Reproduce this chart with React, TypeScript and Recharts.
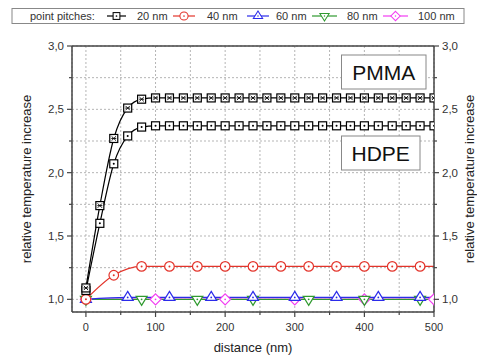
import React from "react";
import { LineChart, Line, XAxis, YAxis, CartesianGrid, ReferenceLine } from "recharts";

const FONT = "'Liberation Sans', Arial, sans-serif";

// 20 nm pitch, every 20 nm
const x20 = [0, 20, 40, 60, 80, 100, 120, 140, 160, 180, 200, 220, 240, 260, 280, 300, 320, 340, 360, 380, 400, 420, 440, 460, 480, 500];
const pmma20 = [1.09, 1.74, 2.27, 2.51, 2.58, 2.59, 2.59, 2.59, 2.59, 2.59, 2.59, 2.59, 2.59, 2.59, 2.59, 2.59, 2.59, 2.59, 2.59, 2.59, 2.59, 2.59, 2.59, 2.59, 2.59, 2.59];
const hdpe20 = [1.07, 1.6, 2.07, 2.29, 2.36, 2.37, 2.37, 2.37, 2.37, 2.37, 2.37, 2.37, 2.37, 2.37, 2.37, 2.37, 2.37, 2.37, 2.37, 2.37, 2.37, 2.37, 2.37, 2.37, 2.37, 2.37];

const x40 = [0, 40, 80, 120, 160, 200, 240, 280, 320, 360, 400, 440, 480, 500];
const y40 = [1.0, 1.19, 1.26, 1.26, 1.26, 1.26, 1.26, 1.26, 1.26, 1.26, 1.26, 1.26, 1.26, 1.26];

const x60 = [0, 60, 120, 180, 240, 300, 360, 420, 480, 500];
const y60 = [1.0, 1.015, 1.015, 1.015, 1.015, 1.015, 1.015, 1.015, 1.015, 1.015];

const x80 = [0, 80, 160, 240, 320, 400, 480, 500];
const y80 = [1.0, 1.0, 1.0, 1.0, 1.0, 1.0, 1.0, 1.0];

const x100 = [0, 100, 200, 300, 400, 500];
const y100 = [1.0, 1.0, 1.0, 1.0, 1.0, 1.0];

const xTicks = [0, 50, 100, 150, 200, 250, 300, 350, 400, 450, 500];
const yTicks = [1.0, 1.25, 1.5, 1.75, 2.0, 2.25, 2.5, 2.75, 3.0];

const zip = (xs: number[], ys: number[]) => xs.map((x, i) => ({ x, y: ys[i] }));

const pmmaData = zip(x20, pmma20);
const hdpeData = zip(x20, hdpe20);
const d40 = zip(x40, y40);
const d60 = zip(x60, y60);
const d80 = zip(x80, y80);
const d100 = zip(x100, y100);

const RED = "#e3342b";
const BLUE = "#2b2bea";
const GREEN = "#2f9a2f";
const MAGENTA = "#f23cf2";
const FRAME = "#444";

type Shape = "sqx" | "sqdot" | "circle" | "up" | "down" | "diamond";

const Marker = ({ cx, cy, shape, color }: { cx: number; cy: number; shape: Shape; color: string }) => {
  const sw = 1.2;
  if (shape === "sqx" || shape === "sqdot") {
    return (
      <g>
        <rect x={cx - 4} y={cy - 4} width={8} height={8} fill="#fff" stroke={color} strokeWidth={sw} />
        {shape === "sqx" ? (
          <path d={`M${cx - 2.2},${cy - 2.2}L${cx + 2.2},${cy + 2.2}M${cx + 2.2},${cy - 2.2}L${cx - 2.2},${cy + 2.2}M${cx - 2.5},${cy}L${cx + 2.5},${cy}`} stroke={color} strokeWidth={0.9} />
        ) : (
          <circle cx={cx} cy={cy} r={1} fill={color} />
        )}
      </g>
    );
  }
  if (shape === "circle") {
    return (
      <g>
        <circle cx={cx} cy={cy} r={4.8} fill="#fff" stroke={color} strokeWidth={sw} />
        <circle cx={cx} cy={cy} r={1} fill={color} />
      </g>
    );
  }
  if (shape === "up") {
    return (
      <g>
        <path d={`M${cx},${cy - 6}L${cx + 5.5},${cy + 3}L${cx - 5.5},${cy + 3}Z`} fill="#fff" stroke={color} strokeWidth={sw} />
        <circle cx={cx} cy={cy} r={0.9} fill={color} />
      </g>
    );
  }
  if (shape === "down") {
    return (
      <g>
        <path d={`M${cx},${cy + 6}L${cx + 5.5},${cy - 3}L${cx - 5.5},${cy - 3}Z`} fill="#fff" stroke={color} strokeWidth={sw} />
        <circle cx={cx} cy={cy} r={0.9} fill={color} />
      </g>
    );
  }
  return (
    <g>
      <path d={`M${cx},${cy - 5.5}L${cx + 5.5},${cy}L${cx},${cy + 5.5}L${cx - 5.5},${cy}Z`} fill="#fff" stroke={color} strokeWidth={sw} />
      <circle cx={cx} cy={cy} r={0.9} fill={color} />
    </g>
  );
};

const makeDot = (shape: Shape, color: string, step: number) => (props: any) => {
  const { cx, cy, payload, index } = props;
  if (payload.x % step !== 0 || cx == null) return <g key={`e-${shape}-${index}`} />;
  return (
    <g key={`m-${shape}-${index}`}>
      <Marker cx={cx} cy={cy} shape={shape} color={color} />
    </g>
  );
};

const XTick = (props: any) => {
  const { x, y, payload } = props;
  const major = payload.value % 100 === 0;
  return (
    <g>
      <line x1={x} x2={x} y1={y} y2={y + (major ? 5 : 3)} stroke={FRAME} strokeWidth={1.2} />
      {major && (
        <text x={x} y={y + 19} textAnchor="middle" fontSize={11} fill="#333" fontFamily={FONT}>
          {payload.value}
        </text>
      )}
    </g>
  );
};

const fmt = (v: number) => v.toFixed(1).replace(".", ",");

const YTick = (side: "left" | "right") => (props: any) => {
  const { x, y, payload } = props;
  const major = Math.abs((payload.value * 2) % 1) < 1e-6;
  const s = side === "left" ? -1 : 1;
  const len = major ? 5 : 3;
  return (
    <g>
      <line x1={x} x2={x + s * len} y1={y} y2={y} stroke={FRAME} strokeWidth={1.2} />
      {major && (
        <text x={x + s * 8} y={y + 4} textAnchor={side === "left" ? "end" : "start"} fontSize={11.5} fill="#333" fontFamily={FONT}>
          {fmt(payload.value)}
        </text>
      )}
    </g>
  );
};

const legendItems: { label: string; color: string; shape: Shape; lx: number; lw: number; tx: number }[] = [
  { label: "20 nm", color: "#000", shape: "sqdot", lx: 107, lw: 19, tx: 137 },
  { label: "40 nm", color: RED, shape: "circle", lx: 173, lw: 22, tx: 207 },
  { label: "60 nm", color: BLUE, shape: "up", lx: 247, lw: 22, tx: 276 },
  { label: "80 nm", color: GREEN, shape: "down", lx: 312, lw: 25, tx: 347 },
  { label: "100 nm", color: MAGENTA, shape: "diamond", lx: 383, lw: 25, tx: 418 },
];

const Overlay = () => (
  <svg width={477} height={356} style={{ position: "absolute", left: 0, top: 0, pointerEvents: "none" }}>
    <rect x={12} y={8.5} width={452} height={15} fill="#fff" stroke="#888" strokeWidth={1} />
    <text x={30} y={20} fontSize={11} fill="#333" fontFamily={FONT}>
      point pitches:
    </text>
    {legendItems.map((it) => {
      const c = it.lx + it.lw / 2;
      return (
        <g key={it.label}>
          <line x1={it.lx} x2={it.lx + it.lw} y1={16} y2={16} stroke={it.color} strokeWidth={1.2} />
          <g transform={`translate(${c},16) scale(0.85) translate(${-c},-16)`}>
            <Marker cx={c} cy={16} shape={it.shape} color={it.color} />
          </g>
          <text x={it.tx} y={20} fontSize={11} fill="#333" fontFamily={FONT}>
            {it.label}
          </text>
        </g>
      );
    })}
    <rect x={341.5} y={55} width={84.5} height={34} fill="#fff" stroke="#888" strokeWidth={1} />
    <text x={383.7} y={80} textAnchor="middle" fontSize={21} fill="#111" fontFamily={FONT}>
      PMMA
    </text>
    <rect x={341.5} y={136} width={78.5} height={34} fill="#fff" stroke="#888" strokeWidth={1} />
    <text x={380.7} y={161} textAnchor="middle" fontSize={21} fill="#111" fontFamily={FONT}>
      HDPE
    </text>
  </svg>
);

export default function App() {
  return (
    <div style={{ position: "absolute", left: 0, top: 0, width: 477, height: 356, background: "#fff" }}>
      <LineChart width={477} height={356} margin={{ top: 46, right: 0, bottom: 0, left: 0 }}>
        <CartesianGrid stroke="#b5b5b5" strokeDasharray="2 2" strokeWidth={1} />
        <XAxis
          dataKey="x"
          type="number"
          domain={[-20, 500]}
          ticks={xTicks}
          allowDataOverflow
          height={44}
          tickSize={0}
          tickMargin={0}
          tickLine={false}
          interval={0}
          axisLine={{ stroke: FRAME, strokeWidth: 1.5 }}
          tick={XTick}
          label={{ value: "distance (nm)", position: "center", dy: 13, fontSize: 13, fill: "#222", fontFamily: FONT }}
        />
        <YAxis
          type="number"
          domain={[0.9, 3.0]}
          ticks={yTicks}
          allowDataOverflow
          width={72}
          tickSize={0}
          tickMargin={0}
          tickLine={false}
          interval={0}
          axisLine={{ stroke: FRAME, strokeWidth: 1.5 }}
          tick={YTick("left")}
          label={{ value: "relative temperature increase", angle: -90, position: "center", dx: -10, fontSize: 13, fill: "#222", fontFamily: FONT }}
        />
        <YAxis
          yAxisId="right"
          orientation="right"
          type="number"
          domain={[0.9, 3.0]}
          ticks={yTicks}
          allowDataOverflow
          width={43}
          tickSize={0}
          tickMargin={0}
          tickLine={false}
          interval={0}
          axisLine={{ stroke: FRAME, strokeWidth: 1.5 }}
          tick={YTick("right")}
          label={{ value: "relative temperature increase", angle: -90, position: "center", dx: 14, fontSize: 13, fill: "#222", fontFamily: FONT }}
        />
        <ReferenceLine y={3.0} stroke={FRAME} strokeWidth={1.5} />
        <Line data={d100} dataKey="y" type="monotone" stroke={MAGENTA} strokeWidth={1.5} dot={makeDot("diamond", MAGENTA, 100)} isAnimationActive={false} />
        <Line data={d80} dataKey="y" type="monotone" stroke={GREEN} strokeWidth={1.2} dot={makeDot("down", GREEN, 80)} isAnimationActive={false} />
        <Line data={d60} dataKey="y" type="monotone" stroke={BLUE} strokeWidth={1.2} dot={makeDot("up", BLUE, 60)} isAnimationActive={false} />
        <Line data={d40} dataKey="y" type="monotone" stroke={RED} strokeWidth={1.2} dot={makeDot("circle", RED, 40)} isAnimationActive={false} />
        <Line data={hdpeData} dataKey="y" type="monotone" stroke="#000" strokeWidth={1.2} dot={makeDot("sqdot", "#000", 20)} isAnimationActive={false} />
        <Line data={pmmaData} dataKey="y" type="monotone" stroke="#000" strokeWidth={1.2} dot={makeDot("sqx", "#000", 20)} isAnimationActive={false} />
      </LineChart>
      <Overlay />
    </div>
  );
}
